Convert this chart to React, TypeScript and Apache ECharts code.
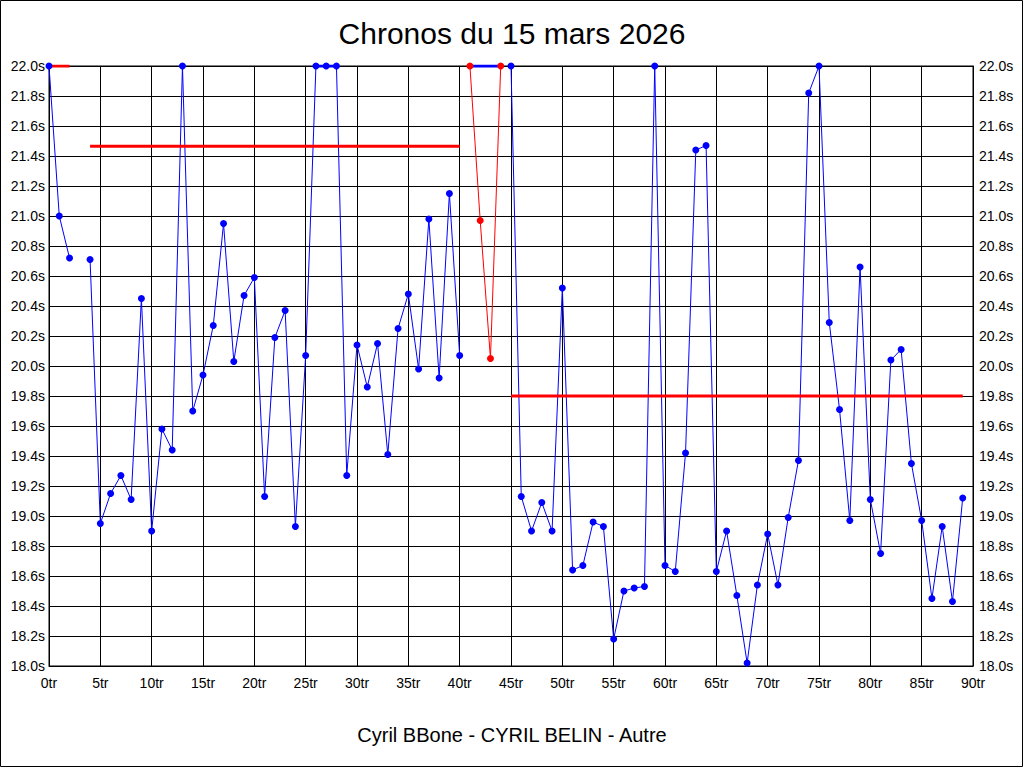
import React, { useEffect, useRef } from "react";
import * as echarts from "echarts";

// Lap times (seconds), index = lap number; null = no point
const blueTimes: (number | null)[] = [
  22.0, 21.0, 20.72, null, 20.71, 18.95, 19.15, 19.27, 19.11, 20.45,
  18.9, 19.58, 19.44, 22.0, 19.7, 19.94, 20.27, 20.95, 20.03, 20.47,
  20.59, 19.13, 20.19, 20.37, 18.93, 20.07, 22.0, 22.0, 22.0, 19.27,
  20.14, 19.86, 20.15, 19.41, 20.25, 20.48, 19.98, 20.98, 19.92, 21.15,
  20.07, null, null, null, null, 22.0, 19.13, 18.9, 19.09, 18.9,
  20.52, 18.64, 18.67, 18.96, 18.93, 18.18, 18.5, 18.52, 18.53, 22.0,
  18.67, 18.63, 19.42, 21.44, 21.47, 18.63, 18.9, 18.47, 18.02, 18.54,
  18.88, 18.54, 18.99, 19.37, 21.82, 22.0, 20.29, 19.71, 18.97, 20.66,
  19.11, 18.75, 20.04, 20.11, 19.35, 18.97, 18.45, 18.93, 18.43, 19.12,
];

const redLaps = [41, 42, 43, 44];
const redTimes = [22.0, 20.97, 20.05, 22.0];

// clipped segments along the top (22.0s)
const capStarts = [26, 41];
const capEnds = [28, 44];
const capValue = 22.0;

// reference (average) lines
const refStarts = [0, 4, 45];
const refEnds = [2, 40, 89];
const refValues = [22.0, 21.465, 19.8];

const xMin = 0;
const xMax = 90;
const xStep = 5;
const yMin = 18.0;
const yMax = 22.0;
const yStep = 0.2;

const titleText = "Chronos du 15 mars 2026";
const footerText = "Cyril BBone - CYRIL BELIN - Autre";

const FONT = "'Liberation Sans', Arial, sans-serif";
const BLUE = "#0000ff";
const RED = "#ff0000";

export default function App() {
  const ref = useRef<HTMLDivElement>(null);

  useEffect(() => {
    if (!ref.current) return;
    const chart = echarts.init(ref.current, null, { renderer: "svg" });

    const blueLine = blueTimes.map((v, i) => [i, v === null ? "-" : v]);
    const bluePoints = blueTimes
      .map((v, i) => (v === null ? null : [i, v]))
      .filter((p) => p !== null);

    const refSeries = refValues.map((v, k) => ({
      type: "line",
      data: [
        [refStarts[k], v],
        [refEnds[k], v],
      ],
      showSymbol: false,
      symbol: "none",
      lineStyle: { color: RED, width: 3 },
      z: 3,
      silent: true,
    }));

    const capSeries = capStarts.map((s, k) => ({
      type: "line",
      data: [
        [s, capValue],
        [capEnds[k], capValue],
      ],
      symbol: "none",
      lineStyle: { color: BLUE, width: 3 },
      z: 3,
      silent: true,
    }));

    const labelStyle = { color: "#000", fontFamily: FONT, fontSize: 14 };

    chart.setOption({
      animation: false,
      backgroundColor: "#fff",
      grid: {
        left: 49,
        right: 51,
        top: 66,
        bottom: 102,
        show: true,
        borderColor: "#000",
        borderWidth: 1,
      },
      graphic: [
        {
          type: "rect",
          shape: { x: 0.5, y: 0.5, width: 1022, height: 766 },
          style: { fill: "none", stroke: "#000", lineWidth: 1 },
          silent: true,
        },
        {
          type: "text",
          x: 512,
          y: 33,
          style: {
            text: titleText,
            fill: "#000",
            font: `30px ${FONT}`,
            textAlign: "center",
            textVerticalAlign: "middle",
          },
        },
        {
          type: "text",
          x: 512,
          y: 735,
          style: {
            text: footerText,
            fill: "#000",
            font: `20px ${FONT}`,
            textAlign: "center",
            textVerticalAlign: "middle",
          },
        },
      ],
      xAxis: {
        type: "value",
        min: xMin,
        max: xMax,
        interval: xStep,
        axisLine: { show: true, lineStyle: { color: "#000", width: 1 } },
        axisTick: { show: false },
        axisLabel: {
          ...labelStyle,
          margin: 10,
          formatter: (v: number) => `${v}tr`,
        },
        splitLine: { show: true, lineStyle: { color: "#000", width: 1 } },
      },
      yAxis: [
        {
          type: "value",
          position: "left",
          min: yMin,
          max: yMax,
          interval: yStep,
          axisLine: { show: true, lineStyle: { color: "#000", width: 1 } },
          axisTick: { show: false },
          axisLabel: {
            ...labelStyle,
            margin: 4,
            formatter: (v: number) => `${v.toFixed(1)}s`,
          },
          splitLine: { show: true, lineStyle: { color: "#000", width: 1 } },
        },
        {
          type: "value",
          position: "right",
          min: yMin,
          max: yMax,
          interval: yStep,
          axisLine: { show: true, lineStyle: { color: "#000", width: 1 } },
          axisTick: { show: false },
          axisLabel: {
            ...labelStyle,
            margin: 6,
            formatter: (v: number) => `${v.toFixed(1)}s`,
          },
          splitLine: { show: false },
        },
      ],
      series: [
        {
          type: "line",
          data: blueLine,
          connectNulls: false,
          showSymbol: false,
          symbol: "none",
          lineStyle: { color: BLUE, width: 1 },
          z: 2,
          silent: true,
        },
        ...refSeries,
        ...capSeries,
        {
          type: "scatter",
          data: bluePoints,
          symbol: "circle",
          symbolSize: 7,
          itemStyle: { color: BLUE, opacity: 1 },
          z: 4,
          silent: true,
        },
        {
          type: "line",
          data: redLaps.map((l, i) => [l, redTimes[i]]),
          symbol: "circle",
          symbolSize: 7,
          showSymbol: true,
          itemStyle: { color: RED, opacity: 1 },
          lineStyle: { color: RED, width: 1 },
          z: 5,
          silent: true,
        },
      ],
    });

    return () => chart.dispose();
  }, []);

  return (
    <div
      ref={ref}
      style={{
        position: "fixed",
        left: 0,
        top: 0,
        width: 1024,
        height: 768,
        background: "#fff",
      }}
    />
  );
}
